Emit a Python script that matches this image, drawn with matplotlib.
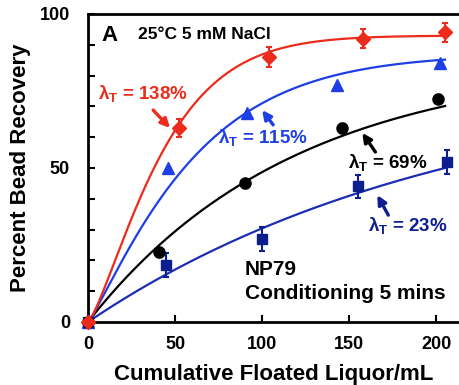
import numpy as np
import matplotlib
matplotlib.use('Agg')
import matplotlib.pyplot as plt

plt.rcParams['font.family'] = ['Liberation Sans', 'DejaVu Sans']
plt.rcParams['font.weight'] = 'bold'
plt.rcParams['axes.labelweight'] = 'bold'
plt.rcParams['mathtext.fontset'] = 'custom'
plt.rcParams['mathtext.bf'] = 'Liberation Sans:bold'
plt.rcParams['mathtext.rm'] = 'Liberation Sans:bold'

# measured recoveries (%) vs cumulative floated liquor (mL)
red_x = [0, 52, 104, 158, 205]
red_y = [0, 63, 86, 92, 94]
red_err = [0, 3, 3.3, 3, 3]

blue_x = [0, 46, 91, 143, 202]
blue_y = [0, 50, 68, 77, 84]

black_x = [0, 41, 90, 146, 201]
black_y = [0, 22.7, 45, 63, 72.5]
black_err = [0, 1.5, 1.5, 1.5, 1.5]

navy_x = [0, 45, 100, 155, 206]
navy_y = [0, 18.5, 27, 44, 52]
navy_err = [0, 4, 4, 3.7, 4]

# fitted recovery curves: A * (1 - exp(-(x/c)^n))
fit_red = (93, 46.3, 1.3)
fit_blue = (87, 63.2, 1.15)
fit_black = (85, 117.6, 1.0)
fit_navy = (80, 209, 1.0)

c_red = '#ec2b1c'
c_blue = '#1f3fe6'
c_black = '#000000'
c_navy = '#0d1e8e'
c_navy_line = '#1a2db4'

def model(x, p):
    A, c, n = p
    return A * (1 - np.exp(-(x / c) ** n))

fig = plt.figure(figsize=(4.59, 3.85), dpi=100)
ax = fig.add_axes([88/459, 63/385, 371/459, 308/385])

xx = np.linspace(0, 205, 300)
ax.plot(xx, model(xx, fit_navy), color=c_navy_line, lw=1.6, zorder=2)
ax.plot(xx, model(xx, fit_black), color=c_black, lw=1.6, zorder=2)
ax.plot(xx, model(xx, fit_blue), color=c_blue, lw=1.6, zorder=2)
ax.plot(xx, model(xx, fit_red), color=c_red, lw=1.6, zorder=2)

ax.errorbar(navy_x, navy_y, yerr=navy_err, fmt='s', color=c_navy, ms=7.5,
            capsize=2.5, elinewidth=1.5, capthick=1.5, clip_on=False, zorder=3)
ax.errorbar(black_x, black_y, yerr=black_err, fmt='o', color=c_black, ms=8,
            capsize=2, elinewidth=1.5, clip_on=False, zorder=3)
ax.plot(blue_x, blue_y, '^', color=c_blue, ms=8.5, clip_on=False, zorder=3)
ax.errorbar(red_x, red_y, yerr=red_err, fmt='D', color=c_red, ms=7,
            capsize=2.5, elinewidth=1.5, capthick=1.5, clip_on=False, zorder=4)

ax.set_xlim(0, 213)
ax.set_ylim(0, 100)
ax.set_xticks([0, 50, 100, 150, 200])
ax.set_yticks([0, 50, 100])
ax.set_yticks(np.arange(10, 100, 10), minor=True)
ax.tick_params(direction='in', width=1.5, length=5, labelsize=13)
ax.tick_params(axis='y', pad=13)
ax.tick_params(axis='x', pad=10)
ax.tick_params(which='minor', direction='in', width=1.5, length=5)
ax.spines['right'].set_visible(False)
for s in ['left', 'bottom', 'top']:
    ax.spines[s].set_linewidth(2)

ax.set_xlabel('Cumulative Floated Liquor/mL', fontsize=16, labelpad=8)
ax.set_ylabel('Percent Bead Recovery', fontsize=16, labelpad=6)

ax.text(8, 93, 'A', fontsize=16, va='center')
ax.text(28.7, 93.2, '25°C 5 mM NaCl', fontsize=12.5, va='center')

lab = r'λ$_{\mathbf{T}}$ = '
ax.text(5.7, 74, lab + '138%', color=c_red, fontsize=13.5, va='center')
ax.text(74.7, 59.7, lab + '115%', color=c_blue, fontsize=13.5, va='center')
ax.text(149.4, 51.6, lab + '69%', color=c_black, fontsize=13.5, va='center')
ax.text(161, 31.2, lab + '23%', color=c_navy, fontsize=13.5, va='center')

ax.text(90.2, 16.9, 'NP79', fontsize=15, va='center')
ax.text(90.2, 9.4, 'Conditioning 5 mins', fontsize=15, va='center')

arrows = [((37.4, 68.8), (47.1, 63.0), c_red),
          ((106.3, 64.0), (100, 68.8), c_blue),
          ((165, 55.2), (157.5, 61.4), c_black),
          ((172.4, 34.7), (166.1, 41.2), c_navy)]
for tail, head, col in arrows:
    ax.annotate('', xy=head, xytext=tail,
                arrowprops=dict(arrowstyle='-|>', color=col, lw=2.4,
                                mutation_scale=13, shrinkA=0, shrinkB=0))

fig.savefig('out.png', dpi=100)
